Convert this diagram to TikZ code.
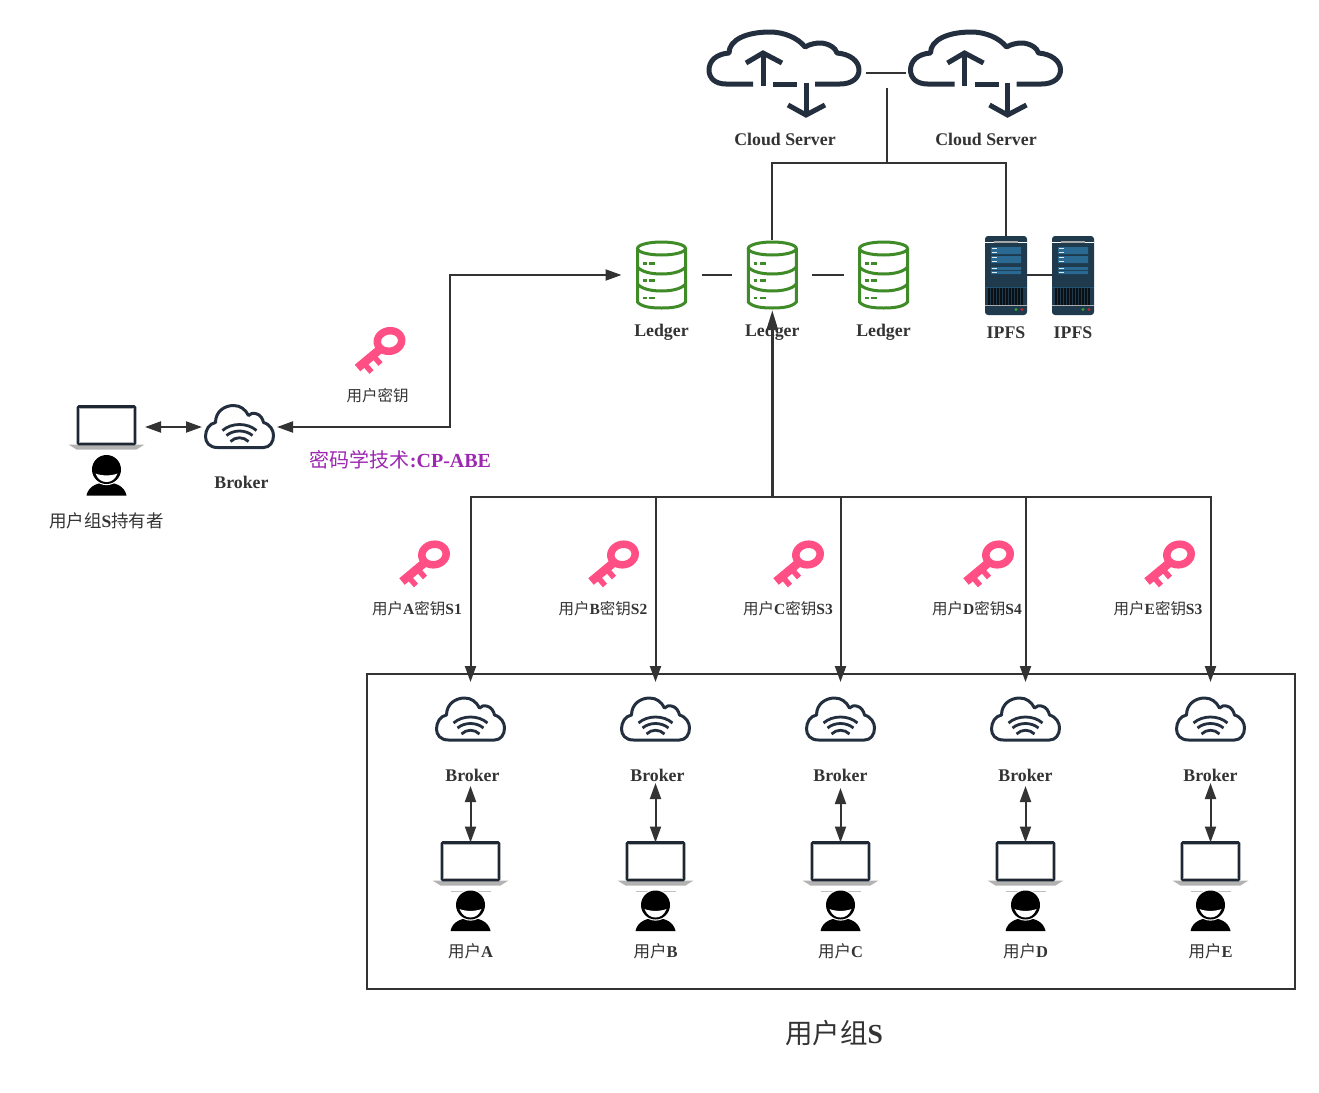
\documentclass[tikz,border=0pt]{standalone}
\usepackage{fontspec}
\setmainfont{Liberation Serif}
\newfontfamily\cjk{Noto Sans CJK SC}
\usetikzlibrary{arrows.meta}
\newcommand{\cn}[1]{{\cjk #1}}
\definecolor{ink}{HTML}{333333}
\definecolor{navy}{HTML}{232F3E}
\definecolor{ledgergreen}{HTML}{3F8B27}
\definecolor{keypink}{HTML}{FF4F84}
\definecolor{purpletext}{HTML}{9C27B0}
\definecolor{srvbody}{HTML}{1E3A4C}
\definecolor{srvpanel}{HTML}{2A6A92}
\tikzset{
  wire/.style={draw=ink,line width=2pt},
  tipone/.style={-{Triangle[length=16pt,width=11pt]}},
  tipboth/.style={{Triangle[length=16pt,width=11pt]}-{Triangle[length=16pt,width=11pt]}},
  tipthick/.style={-{Triangle[length=20pt,width=11pt]}},
  slot/.style={inner sep=0pt,outer sep=0pt,draw=none},
  latinlabel/.style={inner sep=0pt,outer sep=0pt,text=ink,font=\fontsize{17.8}{20}\selectfont\bfseries},
  cnlabel/.style={inner sep=0pt,outer sep=0pt,text=ink,font=\fontsize{16.5}{20}\selectfont},
  wificloud/.pic={
    \draw[navy,line width=3pt,line join=round]
      (-22,21) .. controls (-30,21) and (-34,16) .. (-34,10)
      .. controls (-34,3) and (-30,-3) .. (-24,-4)
      .. controls (-24,-15) and (-15,-21) .. (-6,-21)
      .. controls (1,-21) and (6,-17) .. (9,-11)
      .. controls (11,-13) and (14,-14) .. (16,-13)
      .. controls (21,-12) and (23,-8) .. (24,-4)
      .. controls (31,-2) and (34,4) .. (34,9)
      .. controls (34,16) and (30,21) .. (24,21) -- cycle;
    \draw[navy,line width=2.8pt]
      (-17,4) .. controls (-8,-4) and (8,-4) .. (17,4)
      (-13,9) .. controls (-6,3) and (6,3) .. (13,9)
      (-9,15) .. controls (-4,10) and (4,10) .. (9,15);
  },
  transfercloud/.pic={
    \draw[navy,line width=5pt,line join=round]
      (-31,26) -- (-58,26) .. controls (-69,26) and (-75,20) .. (-75,12)
      .. controls (-75,3) and (-68,-4) .. (-55,-5)
      .. controls (-55,-18) and (-38,-26) .. (-14,-26)
      .. controls (0,-26) and (14,-20) .. (21,-11)
      .. controls (26,-14) and (32,-15) .. (36,-15)
      .. controls (44,-15) and (52,-10) .. (53,-5)
      .. controls (66,-4) and (75,3) .. (75,12)
      .. controls (75,20) and (68,26) .. (56,26) -- (31,26);
    \draw[navy,line width=5pt] (-11,26) -- (13,26);
    \draw[navy,line width=5pt] (-21,28) -- (-21,-4);
    \draw[navy,line width=5pt] (-38,5) -- (-21,-5) -- (-2,5);
    \draw[navy,line width=5pt] (22,25) -- (22,57);
    \draw[navy,line width=5pt] (4,47) -- (22,57) -- (41,47);
  },
  ledgericon/.pic={
    \begin{scope}[ledgergreen,line width=3pt]
      \draw (0,-26.5) ellipse [x radius=24pt,y radius=6.5pt];
      \draw (-24,-26.5) -- (-24,27) .. controls (-20,32) and (-10,33) .. (0,33)
        .. controls (10,33) and (20,32) .. (24,27) -- (24,-26.5);
      \draw (-24,-8) .. controls (-20,-3) and (-10,-1) .. (0,-1) .. controls (10,-1) and (20,-3) .. (24,-8);
      \draw (-24,9) .. controls (-20,14) and (-10,16) .. (0,16) .. controls (10,16) and (20,14) .. (24,9);
      \foreach \yy in {-11.5,5.5,23}{
        \draw[line width=2.4pt] (-18.5,\yy) -- (-15,\yy) (-12.5,\yy) -- (-6.5,\yy);
      }
    \end{scope}
  },
  servericon/.pic={
    \fill[srvbody,rounded corners=3pt] (-21,-39.5) rectangle (21,39.5);
    \draw[white,line width=0.9pt] (-21,-33.5) -- (21,-33.5);
    \draw[gray!70,line width=1.2pt] (-12,-33.5) -- (12,-33.5);
    \fill[srvpanel] (-15,-28.5) rectangle (15,-21.5) (-15,-19.5) rectangle (15,-12.5)
      (-15,-8.5) rectangle (15,-5.5) (-15,-4.5) rectangle (15,-1.5);
    \foreach \yy in {-27,-23,-18,-14,-7,-3}{
      \draw[white!85!srvpanel,line width=0.8pt] (-14,\yy) -- (-9,\yy);
    }
    \draw[srvpanel!80!black,line width=0.7pt] (-21,11.5) -- (21,11.5);
    \fill[black!70!srvbody] (-18,12) rectangle (17,29);
    \foreach \xx in {-16,-13,...,16}{
      \draw[srvbody,line width=0.8pt] (\xx,12) -- (\xx,29);
    }
    \draw[gray!65,line width=1.3pt] (-21,30) -- (21,30);
    \fill[green!55!black!80!white] (10,34) circle [radius=1.7pt];
    \fill[red!70!black!85!white] (16,34) circle [radius=1.7pt];
  },
  laptopicon/.pic={
    \fill[gray!60] (-38,19.5) -- (38,19.5) -- (30,24.5) -- (-30,24.5) -- cycle;
    \fill[white] (-29,-18) rectangle (29,18);
    \draw[navy!85!black,line width=2.6pt,rounded corners=1pt] (-28.5,-18.5) rectangle (28.5,19);
    \draw[gray!60,line width=0.9pt] (-26.6,-16.6) rectangle (26.6,17);
  },
  personicon/.pic={
    \fill[black] (-20,26) .. controls (-18,16) and (-8,13) .. (0,13)
      .. controls (8,13) and (18,16) .. (20,26) -- cycle;
    \fill[white] (0,0) circle [radius=15.6pt];
    \fill[black] (0,0) circle [radius=14.5pt];
    \fill[white] (-11,4) .. controls (-5,6.5) and (5,6.5) .. (11,4)
      .. controls (8.5,10.5) and (4,12.5) .. (0,12.5)
      .. controls (-4,12.5) and (-8.5,10.5) .. (-11,4) -- cycle;
  },
  keyicon/.pic={
    \begin{scope}[keypink]
      \draw[line width=8.5pt] (-8,7) -- (-32,27);
      \draw[line width=5.5pt] (-25,23) -- (-18,31);
      \draw[line width=5.5pt] (-16,15) -- (-9,23);
      \fill[even odd rule,rotate=10] (0,0) ellipse [x radius=16pt,y radius=14pt]
        (0,0) ellipse [x radius=8.5pt,y radius=6.5pt];
    \end{scope}
  },
}
\begin{document}
\begin{tikzpicture}[x=1pt,y=-1pt]
\useasboundingbox (0,0) rectangle (1319,1092);

% user-group frame
\node[slot,draw=ink,line width=2pt,minimum width=928pt,minimum height=315pt] (groupframe) at (831,831.5) {};
\node[inner sep=0pt,text=ink,font=\fontsize{27.5}{30}\selectfont] (grouplabel) at (834,1033) {\cn{用户组}\textbf{S}};

% cloud servers
\node[slot,minimum width=164pt,minimum height=60pt] (cloudA) at (784,73) {};
\node[slot,minimum width=160pt,minimum height=60pt] (cloudB) at (985.5,73) {};
\pic at (784,58) {transfercloud};
\pic at (985.5,58) {transfercloud};
\node[latinlabel] (cloudAlabel) at (785,139.5) {Cloud Server};
\node[latinlabel] (cloudBlabel) at (986,139.5) {Cloud Server};

% ledgers
\foreach \nm/\xx in {ledgerA/661.5,ledgerB/772.3,ledgerC/883.5}{
  \node[slot,minimum width=80pt,minimum height=70pt] (\nm) at (\xx,275) {};
  \pic at (\xx,275) {ledgericon};
  \node[latinlabel] (\nm label) at (\xx,332) {Ledger};
}

% IPFS
\foreach \nm/\xx in {ipfsA/1006,ipfsB/1073}{
  \node[slot,minimum width=42pt,minimum height=79pt] (\nm) at (\xx,275) {};
  \pic at (\xx,275.5) {servericon};
  \node[latinlabel] (\nm label) at (\xx,333) {IPFS};
}

% owner side
\node[slot,minimum width=77pt,minimum height=42pt] (ownerlaptop) at (106.5,425) {};
\pic at (106.5,425) {laptopicon};
\pic at (106.5,469.5) {personicon};
\node[cnlabel,font=\fontsize{17.5}{20}\selectfont] (ownerlabel) at (106.5,520.5) {\cn{用户组}\textbf{S}\cn{持有者}};
\node[slot,minimum width=75pt,minimum height=44pt] (ownerbroker) at (239.5,427) {};
\pic at (239.5,426.5) {wificloud};
\node[latinlabel] (ownerbrokerlabel) at (241.5,482) {Broker};
\pic at (389.5,341) {keyicon};
\node[cnlabel,font=\fontsize{15.5}{20}\selectfont] (ownerkeylabel) at (377.5,395.5) {\cn{用户密钥}};
\node[inner sep=0pt,text=purpletext,font=\fontsize{20}{24}\selectfont] (cplabel) at (400.5,459.5) {\cn{密码学技术}\textbf{:CP-ABE}};

% keys of the five users
\foreach \nm/\num/\lx/\hx in {A/1/417/434,B/2/603/623,C/3/788/808,D/4/977/998,E/3/1158/1179}{
  \pic at (\hx,554.5) {keyicon};
  \node[cnlabel,font=\fontsize{15.5}{20}\selectfont] (key\nm) at (\lx,608.5) {\cn{用户}\textbf{\nm}\cn{密钥}\textbf{S\num}};
}

% five users
\foreach \nm/\xx/\lx/\th in {A/470.5/472.5/22,B/655.5/657.5/16,C/840.5/840.5/26,D/1025.5/1025.5/22,E/1210.5/1210.5/16}{
  \node[slot,minimum width=71pt,minimum height=74pt] (broker\nm) at (\xx,719) {};
  \pic at (\xx,719) {wificloud};
  \node[latinlabel,minimum height=\th pt] (brokerlabel\nm) at (\lx,775) {Broker};
  \node[slot,minimum width=77pt,minimum height=38pt] (laptop\nm) at (\xx,861.5) {};
  \pic at (\xx,861) {laptopicon};
  \draw[gray!50,line width=0.7pt] (\xx-20,891) -- (\xx+20,891);
  \pic at (\xx,905) {personicon};
  \node[cnlabel] (user\nm) at (\xx,951.5) {\cn{用户}\textbf{\nm}};
  \draw[wire,tipboth] (laptop\nm.north) -- (laptop\nm.north |- brokerlabel\nm.south);
}

% named junctions
\coordinate (storehub) at (887,163);
\coordinate (storetop) at (887,88);
\coordinate (bushub) at (772.3,497);
\coordinate (elbowT) at (450,275);
\coordinate (elbowB) at (450,427);

% connectors
\draw[wire] (cloudA.east) -- (cloudB.west);
\draw[wire] (storetop) -- (storehub);
\draw[wire] (ledgerB.north) |- (storehub);
\draw[wire] (ipfsA.north) |- (storehub);
\draw[wire] (ledgerA.east) -- (ledgerB.west);
\draw[wire] (ledgerB.east) -- (ledgerC.west);
\draw[wire] (ipfsA.east) -- (ipfsB.west);
\draw[wire,tipboth] (ownerlaptop.east |- ownerbroker.west) -- (ownerbroker.west);
\draw[wire,tipboth] (ledgerA.west) -- (elbowT) -- (elbowB) -- (ownerbroker.east);
\foreach \nm in {A,B,C,D,E}{
  \draw[wire,tipone] (bushub) -| (broker\nm.north);
}
\draw[draw=ink,line width=3.2pt,tipthick] (bushub) -- (ledgerB.south);
\end{tikzpicture}
\end{document}
